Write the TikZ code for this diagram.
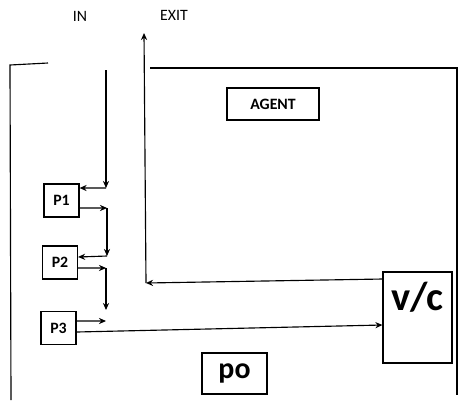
\documentclass[tikz,border=0pt]{standalone}
\usepackage{fontspec}
\setmainfont{Carlito}
\usetikzlibrary{arrows.meta}

\tikzset{
    pbox/.style={draw, line width=0.7pt, font=\bfseries\fontsize{9}{10}\selectfont,
        minimum width=0.7cm, minimum height=0.66cm, inner sep=0pt},
    flow/.style={-{Stealth[length=4pt, width=3.5pt]}, line width=0.65pt},
    frame/.style={line width=0.65pt},
}

\begin{document}
\begin{tikzpicture}[x=0.02cm, y=-0.02cm]
    \useasboundingbox (0,0) rectangle (459,400);

    % outer frame pieces
    \draw[frame] (48,63) -- (10,65) -- (11,400);
    \draw[frame] (150,68) -- (457,68) -- (457,395);

    % labels on top
    \node (in) at (80,16) {\fontsize{9}{10}\selectfont IN};
    \node (exit) at (174,15) {\fontsize{9}{10}\selectfont EXIT};

    % boxes
    \node[pbox] (p1) at (61.5,200.5) {P1};
    \node[pbox] (p2) at (60,262.5) {P2};
    \node[pbox] (p3) at (58.5,328) {P3};
    \node[pbox, minimum width=1.84cm, minimum height=0.64cm] (agent) at (273,104) {AGENT};
    \node[pbox, minimum width=1.3cm, minimum height=0.82cm,
        font=\bfseries\fontsize{17}{18}\selectfont] (po) at (234.5,373.5) {po};
    \node[pbox, minimum width=1.38cm, minimum height=1.82cm] (vc) at (417.5,317.5) {};
    \node[font=\bfseries\fontsize{23}{25}\selectfont, below] (vctext) at ([yshift=-0.1cm]vc.north) {v/c};

    % corner points
    \coordinate (intop) at (106,70);
    \coordinate (c1) at (106,188);
    \coordinate (c2a) at (107,208);
    \coordinate (c2) at (107,256);
    \coordinate (c3a) at (106,268);
    \coordinate (c3) at (106,310);
    \coordinate (c4) at (106,321);
    \coordinate (c5) at (146,283);
    \coordinate (exittop) at (144,33);

    % IN down to P1
    \draw[flow] (intop) -- (c1);
    \draw[flow] (c1) -- ([yshift=0.25cm]p1.east);

    % P1 to P2
    \draw[flow] ([yshift=-0.15cm]p1.east) -- (c2a);
    \draw[flow] (c2a) -- (c2);
    \draw[flow] (c2) -- ([yshift=0.11cm]p2.east);

    % P2 to P3
    \draw[flow] ([yshift=-0.11cm]p2.east) -- (c3a);
    \draw[flow] (c3a) -- (c3);
    \draw[flow] ([yshift=0.14cm]p3.east) -- (c4);

    % P3 to v/c
    \draw[flow] ([yshift=-0.08cm]p3.east) -- ([yshift=-0.15cm]vc.west);

    % v/c out to EXIT
    \draw[flow] ([yshift=0.77cm]vc.west) -- (c5);
    \draw[flow] (c5) -- (exittop);
\end{tikzpicture}
\end{document}
